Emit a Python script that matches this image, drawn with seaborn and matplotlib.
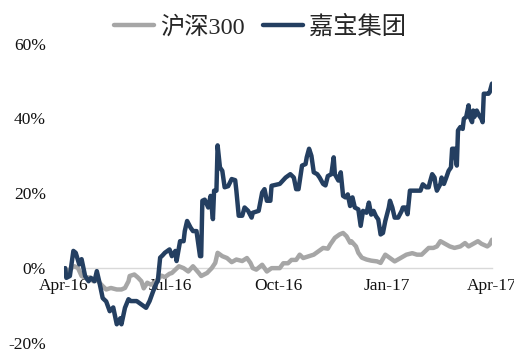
import numpy as np
import pandas as pd
import matplotlib
matplotlib.use("Agg")
import matplotlib.pyplot as plt
import matplotlib.dates as mdates
from matplotlib.font_manager import FontProperties
from matplotlib.ticker import FuncFormatter
import seaborn as sns

# ---- data: (days since start, % return) ----
start_date = "2016-04-01"
series_names = ["沪深300", "嘉宝集团"]

hs300_points = [(1, 0.0), (3, -1.3), (6, 0.0), (9, 0.5), (12, 0.0), (15, -2.1), (18, -2.5),
                (22, -2.5), (25, -3.5), (28, -3.0), (30, -3.8), (33, -4.8), (36, -5.7),
                (40, -5.3), (45, -5.7), (49, -5.7), (52, -5.3), (55, -3.5), (56, -2.1),
                (60, -1.7), (63, -2.5), (66, -3.5), (68, -5.4), (71, -3.9), (74, -4.4),
                (77, -3.9), (80, -3.0), (83, -2.0), (86, -2.4), (90, -1.5), (92, -1.3),
                (98, 0.5), (102, 0.0), (106, -0.9), (110, 0.5), (115, -1.3), (117, -2.1),
                (122, -1.3), (126, 0.0), (129, 1.4), (131, 4.1), (135, 3.2), (139, 2.7),
                (143, 1.6), (147, 2.3), (152, 1.9), (156, 2.7), (159, 1.4), (161, 0.0),
                (164, -0.4), (169, 0.9), (173, -0.9), (177, 0.0), (184, 0.0), (187, 1.3),
                (191, 1.3), (194, 2.2), (198, 2.2), (201, 3.6), (204, 2.7), (208, 3.1),
                (213, 3.6), (217, 4.5), (221, 5.4), (225, 5.2), (227, 6.3), (231, 8.1),
                (235, 9.0), (238, 9.4), (241, 8.5), (244, 6.8), (245, 7.2), (249, 5.8),
                (251, 4.1), (254, 2.8), (258, 2.3), (262, 2.0), (267, 1.8), (270, 1.4),
                (274, 3.6), (278, 2.7), (282, 1.8), (287, 2.7), (292, 3.6), (297, 4.0),
                (301, 3.6), (305, 3.6), (308, 4.5), (311, 5.4), (315, 5.4), (318, 5.8),
                (321, 7.2), (325, 6.5), (329, 5.8), (333, 5.4), (338, 5.8), (342, 6.7),
                (345, 5.8), (349, 6.5), (353, 7.2), (356, 6.5), (361, 5.8), (363, 6.3),
                (365, 7.6)]

jiabao_points = [(1, 0.0), (2, -2.6), (5, -2.1), (8, 4.6), (10, 4.1), (13, 1.0), (15, 2.4),
                 (18, -2.1), (21, -3.5), (23, -2.6), (26, -3.5), (28, -0.8), (30, -3.5),
                 (33, -8.0), (36, -8.9), (39, -11.5), (42, -10.5), (45, -15.0), (48, -13.4),
                 (49, -15.0), (52, -10.6), (55, -8.3), (57, -8.8), (62, -8.8), (66, -9.7),
                 (70, -10.6), (73, -8.8), (76, -6.2), (79, -3.9), (80, -3.5), (82, 2.8),
                 (84, 3.4), (86, 4.1), (90, 5.0), (92, 3.2), (95, 4.6), (96, 1.9), (99, 7.2),
                 (102, 7.2), (103, 9.9), (105, 12.6), (108, 10.8), (110, 9.9), (113, 9.9),
                 (116, 3.2), (117, 3.2), (118, 18.0), (120, 18.3), (123, 16.2), (125, 19.3),
                 (127, 13.1), (128, 20.7), (130, 20.7), (131, 32.8), (133, 26.9), (135, 26.0),
                 (137, 21.6), (140, 21.9), (143, 23.8), (146, 23.5), (147, 20.7), (149, 14.0),
                 (152, 14.0), (154, 16.2), (157, 15.3), (160, 13.5), (161, 14.8), (166, 15.3),
                 (169, 20.2), (171, 21.1), (173, 18.0), (176, 18.0), (177, 22.0), (184, 22.5),
                 (189, 24.2), (193, 25.1), (196, 24.2), (198, 21.1), (200, 21.1), (203, 27.4),
                 (206, 27.8), (207, 29.6), (209, 31.9), (211, 30.0), (213, 25.6), (216, 25.1),
                 (218, 24.2), (221, 22.5), (223, 22.1), (225, 24.6), (228, 25.1), (230, 29.6),
                 (231, 25.1), (234, 23.4), (236, 25.6), (238, 19.3), (240, 18.9), (242, 19.7),
                 (244, 16.6), (246, 18.9), (248, 16.2), (251, 15.7), (253, 11.3), (255, 15.3),
                 (258, 14.8), (260, 17.5), (262, 14.3), (264, 15.3), (266, 13.9), (268, 13.0),
                 (270, 9.0), (272, 9.4), (274, 12.6), (277, 16.2), (278, 18.0), (280, 16.2),
                 (282, 13.5), (285, 13.5), (288, 15.3), (289, 16.2), (291, 16.2), (293, 14.4),
                 (295, 20.7), (298, 20.7), (304, 20.7), (305, 21.6), (306, 22.4), (309, 21.6),
                 (311, 21.6), (312, 22.9), (314, 25.1), (316, 24.2), (317, 22.0), (318, 20.7),
                 (321, 22.5), (322, 24.2), (324, 22.5), (326, 24.2), (328, 26.0), (330, 26.9),
                 (331, 31.9), (333, 31.9), (335, 27.4), (336, 36.8), (338, 37.7), (340, 37.2),
                 (341, 39.9), (343, 40.4), (345, 43.5), (346, 40.4), (348, 39.0), (349, 42.1),
                 (350, 40.4), (352, 42.1), (354, 40.8), (356, 39.9), (357, 39.0), (358, 46.6),
                 (362, 46.6), (363, 47.0), (365, 49.3)]

y_ticks = [-20, 0, 20, 40, 60]
x_tick_dates = ["2016-04-01", "2016-07-01", "2016-10-01", "2017-01-01", "2017-04-01"]

# ---- build frames ----
t0 = pd.Timestamp(start_date)


def to_frame(points, name):
    days, vals = zip(*points)
    return pd.DataFrame({"date": t0 + pd.to_timedelta(list(days), unit="D"),
                         "value": list(vals), "series": name})


df = pd.concat([to_frame(hs300_points, series_names[0]),
                to_frame(jiabao_points, series_names[1])], ignore_index=True)

sns.set_style("white")
plt.rcParams["font.family"] = ["Liberation Serif", "Noto Sans CJK SC"]

fig = plt.figure(figsize=(5.14, 3.49), dpi=100)
ax = fig.add_axes([0.1245, 0.0172, 0.8327, 0.858])

gray = "#A6A6A6"
navy = "#243F61"
sns.lineplot(data=df, x="date", y="value", hue="series", ax=ax,
             palette={series_names[0]: gray, series_names[1]: navy},
             hue_order=series_names, lw=3.2, sort=False)

ax.set_ylim(-20, 60)
ax.set_xlim(pd.Timestamp("2016-04-01"), pd.Timestamp("2017-04-01"))
ax.set_yticks(y_ticks)
ax.yaxis.set_major_formatter(FuncFormatter(lambda v, p: f"{v:.0f}%"))
ax.set_xticks([pd.Timestamp(d) for d in x_tick_dates])
ax.xaxis.set_major_formatter(mdates.DateFormatter("%b-%y"))
ax.set_xlabel("")
ax.set_ylabel("")

for s in ["top", "right", "left"]:
    ax.spines[s].set_visible(False)
ax.spines["bottom"].set_position(("data", 0))
ax.spines["bottom"].set_color("#D9D9D9")
ax.spines["bottom"].set_linewidth(1.0)
ax.spines["bottom"].set_zorder(1)
ax.tick_params(axis="both", length=0, labelsize=12.5)
ax.tick_params(axis="x", pad=7)
ax.tick_params(axis="y", pad=13)
for lab in ax.get_xticklabels() + ax.get_yticklabels():
    lab.set_color("#111111")

leg_font = FontProperties(family=["Liberation Serif", "Noto Sans CJK SC"], size=17.5)
handles, labels = ax.get_legend_handles_labels()
for h in handles:
    h.set_linewidth(3.2)
ax.legend(handles, labels, loc="center", bbox_to_anchor=(260 / 514, 1 - 27 / 349),
          bbox_transform=fig.transFigure, ncol=2, frameon=False, prop=leg_font,
          handlelength=1.65, handletextpad=0.25, columnspacing=0.75, borderpad=0.0)

fig.savefig("out.png", dpi=100)
